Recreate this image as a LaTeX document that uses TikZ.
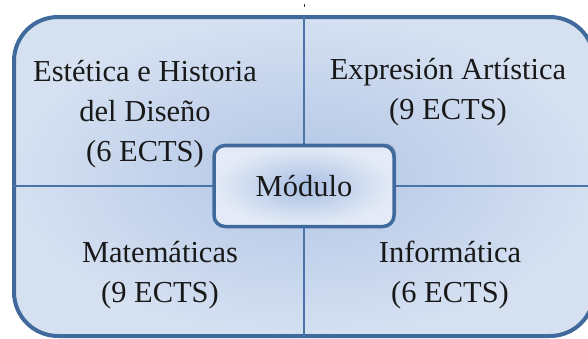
\documentclass[tikz,border=0pt]{standalone}
\usepackage{fontspec}
\setmainfont{Liberation Serif}
\usepackage{tikz}
\usetikzlibrary{shadows}
\definecolor{rimblue}{HTML}{3F6A9B}
\definecolor{lineblue}{HTML}{4A74A8}
\definecolor{paleblue}{HTML}{D5E0F1}
\definecolor{midblue}{HTML}{B2C6E6}
\definecolor{boxblue}{HTML}{A9BFE4}
\definecolor{boxpale}{HTML}{E4EBF6}
\tikzset{
    frame/.style={draw=rimblue, line width=4, rounded corners=44, inner color=midblue, outer color=paleblue},
    divider/.style={draw=lineblue, line width=2},
    modbox/.style={draw=rimblue, line width=3.5, rounded corners=11, inner color=boxblue, outer color=boxpale,
        drop shadow={shadow xshift=2, shadow yshift=-2, fill=rimblue!80!black, opacity=0.45},
        minimum width=180, minimum height=81},
    subject/.style={align=center, text=black!90, font=\fontsize{30.5}{40}\selectfont}
}

\begin{document}
\begin{tikzpicture}[x=1pt, y=-1pt]
			\useasboundingbox (0,0) rectangle (588,338);
			\fill[white] (0,0) rectangle (588,338);
			\clip (0,0) rectangle (588,338);
			
			% Frame
			\node[frame, minimum width=580, minimum height=319] (frame) at (304,176.5) {};
			\coordinate (mid) at (304,186);
			
			% Dividers
			\draw[divider] (mid |- frame.north) -- (mid |- frame.south);
			\draw[divider] (mid -| frame.west) -- (mid -| frame.east);
			
			% Stray mark
			\draw[black!80, line width=0.8] (304,4) -- (304,7);
			
			% Centre box
			\node[modbox, font=\fontsize{30.5}{40}\selectfont, text=black!90] (modulo) at (mid) {M\'odulo};
			
			% Nodes
			\node[subject] (estetica) at (145,114) {Est\'etica e Historia\\del Dise\~no\\(6 ECTS)};
			\node[subject] (expresion) at (448,92) {Expresi\'on Art\'istica\\(9 ECTS)};
			\node[subject] (matematicas) at (160,275) {Matem\'aticas\\(9 ECTS)};
			\node[subject] (informatica) at (450,275) {Inform\'atica\\(6 ECTS)};
		\end{tikzpicture}
\end{document}
